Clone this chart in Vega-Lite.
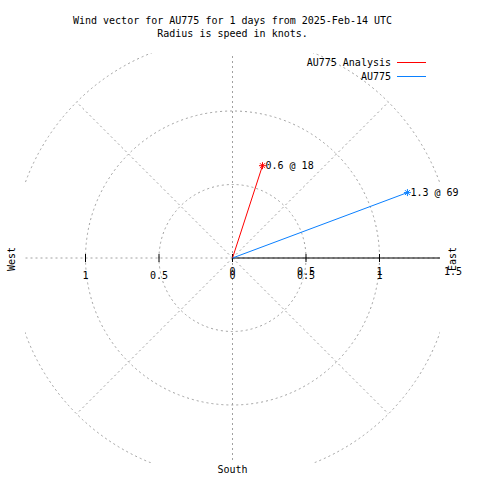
{
  "$schema": "https://vega.github.io/schema/vega-lite/v6.json",
  "width": 415,
  "height": 410,
  "autosize": {"type": "none"},
  "padding": {"left": 25, "top": 53, "right": 40, "bottom": 17},
  "background": "white",
  "config": {"view": {"stroke": null}, "font": "DejaVu Sans Mono"},
  "title": {
    "text": ["Wind vector for AU775 for 1 days from 2025-Feb-14 UTC", "Radius is speed in knots."],
    "font": "DejaVu Sans Mono",
    "fontSize": 10,
    "fontWeight": "normal",
    "color": "black",
    "anchor": "middle",
    "frame": "group",
    "lineHeight": 13,
    "baseline": "middle",
    "offset": 9
  },
  "layer": [
    {
      "data": {"values": [{"r": 0.5, "ox": 0, "oy": 0}, {"r": 1, "ox": 0, "oy": 0}, {"r": 1.5, "ox": 0, "oy": 0}]},
      "mark": {"type": "point", "shape": "circle", "filled": false, "stroke": "#a0a0a0", "strokeWidth": 1, "strokeDash": [2, 3], "opacity": 1, "clip": true},
      "encoding": {
        "x": {"field": "ox", "type": "quantitative", "scale": {"domain": [-1.4116, 1.4116], "nice": false, "zero": false}, "axis": null},
        "y": {"field": "oy", "type": "quantitative", "scale": {"domain": [-1.3946, 1.3946], "nice": false, "zero": false}, "axis": null},
        "size": {"field": "r", "type": "quantitative", "scale": {"type": "pow", "exponent": 2, "domain": [0, 1.5], "range": [0, 194481]}, "legend": null}
      }
    },
    {
      "data": {"values": [
        {"dir": 0, "ox": 0, "oy": 0, "ex": 0, "ey": 1.5},
        {"dir": 45, "ox": 0, "oy": 0, "ex": 1.0607, "ey": 1.0607},
        {"dir": 90, "ox": 0, "oy": 0, "ex": 1.5, "ey": 0},
        {"dir": 135, "ox": 0, "oy": 0, "ex": 1.0607, "ey": -1.0607},
        {"dir": 180, "ox": 0, "oy": 0, "ex": 0, "ey": -1.5},
        {"dir": 225, "ox": 0, "oy": 0, "ex": -1.0607, "ey": -1.0607},
        {"dir": 270, "ox": 0, "oy": 0, "ex": -1.5, "ey": 0},
        {"dir": 315, "ox": 0, "oy": 0, "ex": -1.0607, "ey": 1.0607}
      ]},
      "mark": {"type": "rule", "stroke": "#a0a0a0", "strokeWidth": 1, "strokeDash": [2, 3], "clip": true},
      "encoding": {
        "x": {"field": "ox", "type": "quantitative"},
        "y": {"field": "oy", "type": "quantitative"},
        "x2": {"field": "ex"},
        "y2": {"field": "ey"}
      }
    },
    {
      "data": {"values": [{"x0": 0, "x1": 1.5, "y0": 0}]},
      "mark": {"type": "rule", "stroke": "black", "strokeWidth": 1, "clip": true},
      "encoding": {
        "x": {"field": "x0", "type": "quantitative"},
        "x2": {"field": "x1"},
        "y": {"field": "y0", "type": "quantitative"}
      }
    },
    {
      "data": {"values": [{"t": -1, "z": 0}, {"t": -0.5, "z": 0}, {"t": 0, "z": 0}, {"t": 0.5, "z": 0}, {"t": 1, "z": 0}]},
      "mark": {"type": "tick", "orient": "vertical", "size": 8, "thickness": 1, "color": "black", "opacity": 1},
      "encoding": {
        "x": {"field": "t", "type": "quantitative"},
        "y": {"field": "z", "type": "quantitative"}
      }
    },
    {
      "data": {"values": [
        {"t": -1, "z": 0, "lab": "1"}, {"t": -0.5, "z": 0, "lab": "0.5"}, {"t": 0, "z": 0, "lab": "0"}, {"t": 0.5, "z": 0, "lab": "0.5"}, {"t": 1, "z": 0, "lab": "1"}
      ]},
      "mark": {"type": "text", "font": "DejaVu Sans Mono", "fontSize": 10, "color": "black", "align": "center", "baseline": "middle", "dy": 18},
      "encoding": {
        "x": {"field": "t", "type": "quantitative"},
        "y": {"field": "z", "type": "quantitative"},
        "text": {"field": "lab"}
      }
    },
    {
      "data": {"values": [
        {"t": 0, "z": 0, "lab": "0"}, {"t": 0.5, "z": 0, "lab": "0.5"}, {"t": 1, "z": 0, "lab": "1"}, {"t": 1.5, "z": 0, "lab": "1.5"}
      ]},
      "mark": {"type": "text", "font": "DejaVu Sans Mono", "fontSize": 10, "color": "black", "align": "center", "baseline": "middle", "dy": 14},
      "encoding": {
        "x": {"field": "t", "type": "quantitative"},
        "y": {"field": "z", "type": "quantitative"},
        "text": {"field": "lab"}
      }
    },
    {
      "data": {"values": [
        {"lab": "West", "px": -1.5, "py": 0},
        {"lab": "East", "px": 1.5, "py": 0}
      ]},
      "mark": {"type": "text", "font": "DejaVu Sans Mono", "fontSize": 10, "color": "black", "align": "center", "baseline": "middle", "angle": 270, "dx": -1, "dy": 0},
      "encoding": {
        "x": {"field": "px", "type": "quantitative"},
        "y": {"field": "py", "type": "quantitative"},
        "text": {"field": "lab"}
      }
    },
    {
      "data": {"values": [{"lab": "South", "px": 0, "py": -1.5}]},
      "mark": {"type": "text", "font": "DejaVu Sans Mono", "fontSize": 10, "color": "black", "align": "center", "baseline": "middle", "dy": -8},
      "encoding": {
        "x": {"field": "px", "type": "quantitative"},
        "y": {"field": "py", "type": "quantitative"},
        "text": {"field": "lab"}
      }
    },
    {
      "data": {"values": [
        {"series": "AU775 Analysis", "ox": 0, "oy": 0, "u": 0.204, "v": 0.628, "label": "0.6 @ 18"},
        {"series": "AU775", "ox": 0, "oy": 0, "u": 1.19, "v": 0.445, "label": "1.3 @ 69"}
      ]},
      "mark": {"type": "rule", "strokeWidth": 1},
      "encoding": {
        "x": {"field": "ox", "type": "quantitative"},
        "y": {"field": "oy", "type": "quantitative"},
        "x2": {"field": "u"},
        "y2": {"field": "v"},
        "color": {
          "field": "series", "type": "nominal",
          "scale": {"domain": ["AU775 Analysis", "AU775"], "range": ["#ff0000", "#0a80ff"]},
          "legend": {
            "title": null,
            "orient": "none",
            "legendX": 381,
            "legendY": 4,
            "symbolType": "M-2.9,0L2.9,0",
            "symbolSize": 100,
            "symbolStrokeWidth": 1,
            "labelAlign": "right",
            "labelBaseline": "middle",
            "labelOffset": -26,
            "labelFont": "DejaVu Sans Mono",
            "labelFontSize": 10,
            "labelColor": "black",
            "rowPadding": 3,
            "padding": 0
          }
        }
      }
    },
    {
      "data": {"values": [
        {"series": "AU775 Analysis", "u": 0.204, "v": 0.628, "label": "0.6 @ 18"},
        {"series": "AU775", "u": 1.19, "v": 0.445, "label": "1.3 @ 69"}
      ]},
      "mark": {"type": "point", "shape": "M-1,0L1,0M0,-1L0,1M-0.7,-0.7L0.7,0.7M-0.7,0.7L0.7,-0.7", "filled": false, "size": 49, "strokeWidth": 1, "opacity": 1},
      "encoding": {
        "x": {"field": "u", "type": "quantitative"},
        "y": {"field": "v", "type": "quantitative"},
        "stroke": {"field": "series", "type": "nominal", "scale": {"domain": ["AU775 Analysis", "AU775"], "range": ["#ff0000", "#0a80ff"]}, "legend": null}
      }
    },
    {
      "data": {"values": [
        {"series": "AU775 Analysis", "u": 0.204, "v": 0.628, "label": "0.6 @ 18"},
        {"series": "AU775", "u": 1.19, "v": 0.445, "label": "1.3 @ 69"}
      ]},
      "mark": {"type": "text", "font": "DejaVu Sans Mono", "fontSize": 10, "color": "black", "align": "left", "baseline": "middle", "dx": 3},
      "encoding": {
        "x": {"field": "u", "type": "quantitative"},
        "y": {"field": "v", "type": "quantitative"},
        "text": {"field": "label"}
      }
    }
  ]
}
